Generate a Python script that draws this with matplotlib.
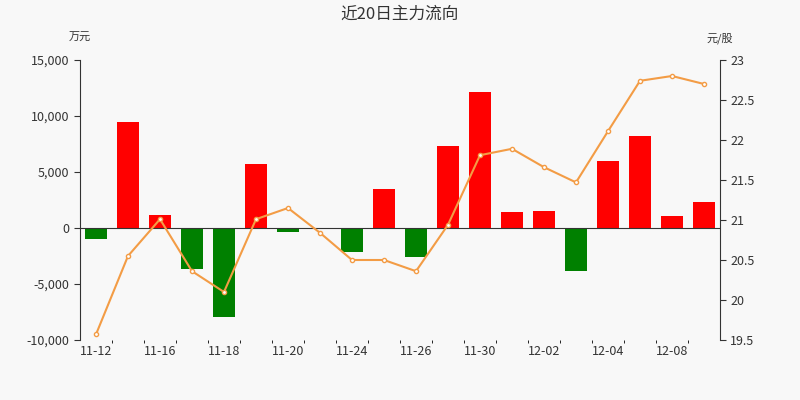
import matplotlib
matplotlib.use("Agg")
import matplotlib.pyplot as plt
from matplotlib.ticker import FuncFormatter

plt.rcParams['font.family'] = ['Noto Sans CJK SC', 'DejaVu Sans']

dates = ["11-12","11-13","11-16","11-17","11-18","11-19","11-20","11-23","11-24","11-25",
         "11-26","11-27","11-30","12-01","12-02","12-03","12-04","12-07","12-08","12-09"]
flow = [-1000, 9500, 1150, -3700, -7950, 5700, -400, -100, -2150, 3500,
        -2600, 7300, 12150, 1400, 1500, -3850, 6000, 8200, 1050, 2300]
price = [19.57, 20.55, 21.01, 20.36, 20.1, 21.01, 21.15, 20.84, 20.5, 20.5,
         20.36, 20.94, 21.81, 21.89, 21.66, 21.47, 22.11, 22.74, 22.8, 22.7]

bg = "#f8f8f8"
fig = plt.figure(figsize=(8, 4), dpi=100, facecolor=bg)
ax = fig.add_axes([0.1, 0.15, 0.8, 0.7], facecolor=bg)
x = list(range(len(dates)))
colors = ["#ff0000" if v >= 0 else "#008000" for v in flow]
ax.bar(x, flow, width=0.68, color=colors)
ax.set_ylim(-10000, 15000)
ax.set_yticks(range(-10000, 15001, 5000))
ax.yaxis.set_major_formatter(FuncFormatter(lambda v, p: f"{int(v):,}"))
ax.set_xlim(-0.5, len(dates) - 0.5)
ax.set_xticks(x[::2])
ax.set_xticklabels(dates[::2])
ax.set_xticks([i + 0.5 for i in x[:-1]], minor=True)
ax.axhline(0, color="#333333", lw=0.8)
for s in ["top", "right"]:
    ax.spines[s].set_visible(False)
ax.spines["bottom"].set_visible(False)
ax.spines["left"].set_color("#333333")
ax.tick_params(axis="both", labelsize=9, colors="#333333", length=4)
ax.tick_params(axis="x", which="major", length=0)

ax2 = ax.twinx()
ax2.plot(x, price, color="#f39c45", lw=1.5, marker="o", ms=3,
         markerfacecolor="white", markeredgecolor="#f39c45", markeredgewidth=1)
ax2.set_ylim(19.5, 23)
ax2.set_yticks([19.5, 20, 20.5, 21, 21.5, 22, 22.5, 23])
ax2.set_yticklabels(["19.5", "20", "20.5", "21", "21.5", "22", "22.5", "23"])
for s in ["top", "left", "bottom"]:
    ax2.spines[s].set_visible(False)
ax2.spines["right"].set_color("#333333")
ax2.tick_params(axis="y", labelsize=9, colors="#333333", length=4)

fig.text(0.5, 0.965, "近20日主力流向", ha="center", va="center", fontsize=12, color="#333333")
fig.text(0.1, 0.905, "万元", ha="center", va="center", fontsize=8, color="#333333")
fig.text(0.9, 0.905, "元/股", ha="center", va="center", fontsize=8, color="#333333")
fig.savefig("out.png", dpi=100, facecolor=bg)
